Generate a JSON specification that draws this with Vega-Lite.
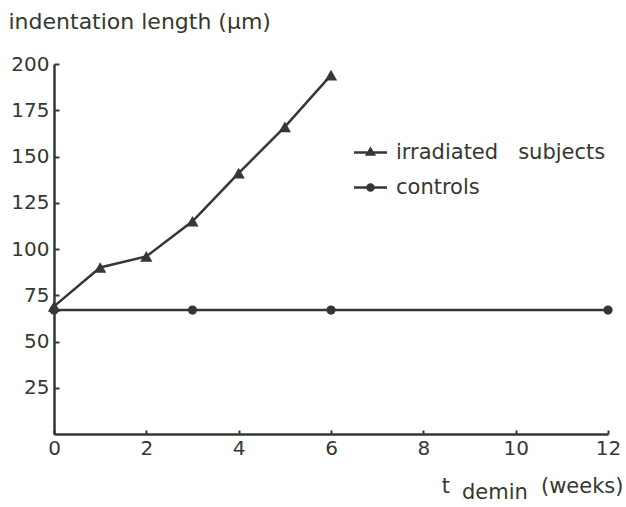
{
  "$schema": "https://vega.github.io/schema/vega-lite/v6.json",
  "width": 554,
  "height": 370,
  "autosize": {"type": "none"},
  "padding": {"left": 54, "top": 64, "right": 18, "bottom": 73},
  "background": "white",
  "config": {"view": {"stroke": null}, "font": "DejaVu Sans"},
  "title": {"text": "demin", "orient": "bottom", "anchor": "start", "frame": "group", "dx": 408, "dy": -14, "offset": 0, "fontSize": 21, "fontWeight": "normal", "color": "#333833", "font": "DejaVu Sans"},
  "data": {
    "values": [
      {"series": "irradiated subjects", "t": 0, "v": 69},
      {"series": "irradiated subjects", "t": 1, "v": 90},
      {"series": "irradiated subjects", "t": 2, "v": 96},
      {"series": "irradiated subjects", "t": 3, "v": 115},
      {"series": "irradiated subjects", "t": 4, "v": 141},
      {"series": "irradiated subjects", "t": 5, "v": 166},
      {"series": "irradiated subjects", "t": 6, "v": 194},
      {"series": "controls", "t": 0, "v": 67},
      {"series": "controls", "t": 3, "v": 67},
      {"series": "controls", "t": 6, "v": 67},
      {"series": "controls", "t": 12, "v": 67}
    ]
  },
  "encoding": {
    "x": {
      "field": "t", "type": "quantitative",
      "scale": {"domain": [0, 12], "nice": false},
      "axis": {
        "values": [0, 2, 4, 6, 8, 10, 12], "format": "d", "grid": false,
        "tickSize": -4, "tickWidth": 2, "tickColor": "#333833",
        "domainWidth": 2.5, "domainColor": "#333833",
        "labelFont": "DejaVu Sans", "labelFontSize": 20, "labelColor": "#333833", "labelPadding": 8, "labelFlush": false,
        "title": "t\u00a0\u00a0\u00a0\u00a0\u00a0\u00a0\u00a0\u00a0\u00a0\u00a0\u00a0\u00a0\u00a0\u2009(weeks)",
        "titleFont": "DejaVu Sans", "titleFontSize": 21, "titleFontWeight": "normal", "titleColor": "#333833",
        "titleAlign": "right", "titleAnchor": null, "titleX": 569, "titleY": 58, "titleBaseline": "alphabetic"
      }
    },
    "y": {
      "field": "v", "type": "quantitative",
      "scale": {"domain": [0, 200], "nice": false},
      "axis": {
        "values": [25, 50, 75, 100, 125, 150, 175, 200], "grid": false,
        "tickSize": -5, "tickWidth": 2, "tickColor": "#333833",
        "domainWidth": 2.5, "domainColor": "#333833",
        "labelFont": "DejaVu Sans", "labelFontSize": 20, "labelColor": "#333833", "labelPadding": 10, "labelFlush": false,
        "title": "indentation length (µm)",
        "titleFont": "DejaVu Sans", "titleFontSize": 22, "titleFontWeight": "normal", "titleColor": "#333833",
        "titleAngle": 0, "titleAlign": "left", "titleAnchor": null, "titleX": -46, "titleY": -36, "titleBaseline": "alphabetic"
      }
    }
  },
  "layer": [
    {
      "mark": {"type": "line", "strokeWidth": 2.5, "color": "#333833"},
      "encoding": {"detail": {"field": "series"}}
    },
    {
      "transform": [{"filter": "datum.series === 'controls'"}],
      "mark": {"type": "point", "filled": true, "opacity": 1, "color": "#333833", "size": 85, "shape": "circle"},
      "encoding": {}
    },
    {
      "transform": [{"filter": "datum.series === 'irradiated subjects'"}],
      "mark": {"type": "point", "filled": true, "opacity": 1, "color": "#333833", "size": 150, "shape": "triangle-up"},
      "encoding": {}
    },
    {
      "mark": {"type": "point", "filled": true, "opacity": 1, "color": "#333833", "size": 0},
      "encoding": {
        "shape": {
          "field": "series", "type": "nominal",
          "scale": {"domain": ["irradiated subjects", "controls"], "range": ["M-1,-0.075H1V0.075H-1ZM0,-0.36L0.34,0.2L-0.34,0.2Z", "M-1,-0.075H1V0.075H-1ZM0.26,0A0.26,0.26 0 1,1 -0.26,0A0.26,0.26 0 1,1 0.26,0Z"]},
          "legend": {
            "title": null, "orient": "none", "legendX": 299, "legendY": 71, "padding": 0,
            "labelFont": "DejaVu Sans", "labelFontSize": 21, "labelColor": "#333833", "labelOffset": 8, "labelLimit": 400, "rowPadding": 7,
            "labelExpr": "replace(datum.label, ' ', '\u00a0\u00a0\u00a0')",
            "symbolSize": 1089, "symbolFillColor": "#333833"
          }
        }
      }
    }
  ]
}
